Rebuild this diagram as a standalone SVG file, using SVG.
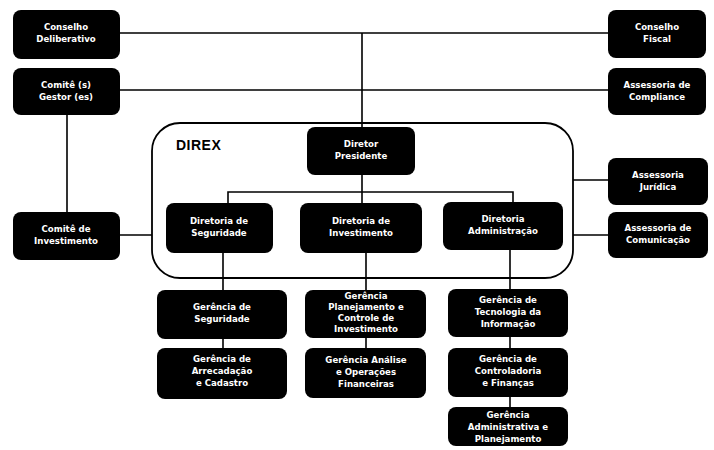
<svg xmlns="http://www.w3.org/2000/svg" width="714" height="450" viewBox="0 0 714 450">
<style>
.b{fill:#000}
.t{fill:#fff;font-family:"DejaVu Sans","Liberation Sans",Arial,sans-serif;font-size:8.6px;font-weight:bold;text-anchor:middle}
.c{stroke:#000;stroke-width:1.6;fill:none}
</style>
<rect width="714" height="450" fill="#fff"/>
<g id="connectors">
<path class="c" d="M120 33H608M362 33V127M120 90H608M67 115V212M120 235H152M362 175V203M228 203V192H513V202M573 180H608M573 235H608M223 253V290M223 339V348M366 253V290M366 338V348M510 250V289M510 337V348M510 397V407"/>
</g>
<g id="direx">
<rect x="152" y="123" width="421" height="155" rx="28" fill="none" stroke="#000" stroke-width="1.8"/>
<text x="176" y="150" style="font-family:'Liberation Sans',Arial,sans-serif;font-size:14px;font-weight:bold;fill:#000;letter-spacing:0.5px">DIREX</text>
</g>
<g id="conselho-deliberativo"><rect class="b" x="13" y="10" width="107" height="49" rx="8"/><text class="t" x="66" y="30">Conselho</text><text class="t" x="66" y="42">Deliberativo</text></g>
<g id="comite-gestor"><rect class="b" x="13" y="68" width="107" height="47" rx="8"/><text class="t" x="66" y="88">Comitê (s)</text><text class="t" x="66" y="100">Gestor (es)</text></g>
<g id="conselho-fiscal"><rect class="b" x="608" y="10" width="98" height="48" rx="8"/><text class="t" x="657" y="30">Conselho</text><text class="t" x="657" y="42">Fiscal</text></g>
<g id="assessoria-compliance"><rect class="b" x="608" y="68" width="98" height="47" rx="8"/><text class="t" x="657" y="88">Assessoria de</text><text class="t" x="657" y="100">Compliance</text></g>
<g id="comite-investimento"><rect class="b" x="13" y="212" width="107" height="48" rx="8"/><text class="t" x="66" y="232">Comitê de</text><text class="t" x="66" y="244">Investimento</text></g>
<g id="diretor-presidente"><rect class="b" x="307" y="127" width="108" height="48" rx="8"/><text class="t" x="361" y="147">Diretor</text><text class="t" x="361" y="159">Presidente</text></g>
<g id="diretoria-seguridade"><rect class="b" x="166" y="203" width="107" height="50" rx="8"/><text class="t" x="219" y="224">Diretoria de</text><text class="t" x="219" y="236">Seguridade</text></g>
<g id="diretoria-investimento"><rect class="b" x="300" y="203" width="122" height="50" rx="8"/><text class="t" x="361" y="224">Diretoria de</text><text class="t" x="361" y="236">Investimento</text></g>
<g id="diretoria-administracao"><rect class="b" x="443" y="202" width="120" height="48" rx="8"/><text class="t" x="503" y="222">Diretoria</text><text class="t" x="503" y="234">Administração</text></g>
<g id="assessoria-juridica"><rect class="b" x="608" y="158" width="100" height="47" rx="8"/><text class="t" x="658" y="178">Assessoria</text><text class="t" x="658" y="190">Jurídica</text></g>
<g id="assessoria-comunicacao"><rect class="b" x="608" y="212" width="100" height="46" rx="8"/><text class="t" x="658" y="231">Assessoria de</text><text class="t" x="658" y="243">Comunicação</text></g>
<g id="gerencia-seguridade"><rect class="b" x="157" y="290" width="130" height="49" rx="8"/><text class="t" x="222" y="310">Gerência de</text><text class="t" x="222" y="322">Seguridade</text></g>
<g id="gerencia-arrecadacao"><rect class="b" x="157" y="348" width="130" height="51" rx="8"/><text class="t" x="222" y="362">Gerência de</text><text class="t" x="222" y="374">Arrecadação</text><text class="t" x="222" y="386">e Cadastro</text></g>
<g id="gerencia-planejamento"><rect class="b" x="305" y="290" width="121" height="48" rx="8"/><text class="t" x="366" y="299">Gerência</text><text class="t" x="366" y="310">Planejamento e</text><text class="t" x="366" y="321">Controle de</text><text class="t" x="366" y="332">Investimento</text></g>
<g id="gerencia-analise"><rect class="b" x="305" y="348" width="121" height="50" rx="8"/><text class="t" x="366" y="363">Gerência Análise</text><text class="t" x="366" y="375">e Operações</text><text class="t" x="366" y="387">Financeiras</text></g>
<g id="gerencia-ti"><rect class="b" x="448" y="289" width="120" height="48" rx="8"/><text class="t" x="508" y="303">Gerência de</text><text class="t" x="508" y="315">Tecnologia da</text><text class="t" x="508" y="327">Informação</text></g>
<g id="gerencia-controladoria"><rect class="b" x="448" y="348" width="120" height="49" rx="8"/><text class="t" x="508" y="362">Gerência de</text><text class="t" x="508" y="374">Controladoria</text><text class="t" x="508" y="386">e Finanças</text></g>
<g id="gerencia-administrativa"><rect class="b" x="448" y="407" width="120" height="39" rx="8"/><text class="t" x="508" y="418">Gerência</text><text class="t" x="508" y="430">Administrativa e</text><text class="t" x="508" y="442">Planejamento</text></g>
</svg>
